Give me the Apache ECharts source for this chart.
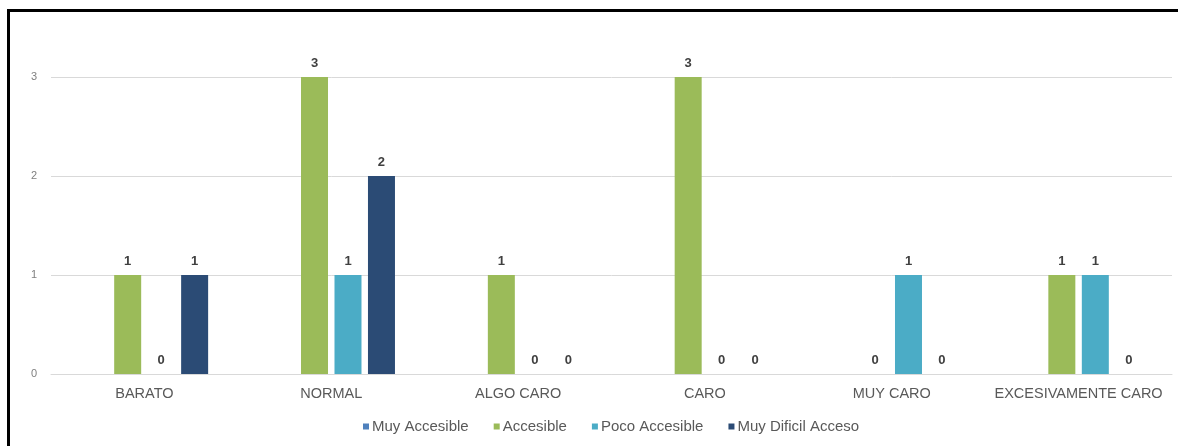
<!DOCTYPE html>
<html>
<head>
<meta charset="utf-8">
<script src="https://cdn.jsdelivr.net/npm/echarts@6/dist/echarts.min.js"></script>
<style>
  html, body { margin: 0; padding: 0; background: #fff; }
  #chart { width: 1178px; height: 446px; }
  #frame {
    position: absolute; left: 7px; top: 9px; width: 1180px; height: 450px;
    border-top: 3px solid #000; border-left: 3px solid #000; pointer-events: none;
  }
</style>
</head>
<body>
<div id="chart"></div>
<div id="frame"></div>
<script>
// Categories and series values
const categories = ['BARATO', 'NORMAL', 'ALGO CARO', 'CARO', 'MUY CARO', 'EXCESIVAMENTE CARO'];
const muyAccesible = [null, null, null, null, null, null];
const accesible = [1, 3, 1, 3, 0, 1];
const pocoAccesible = [0, 1, 0, 0, 1, 1];
const muyDificilAcceso = [1, 2, 0, 0, 0, 0];
const yTicks = [0, 1, 2, 3];

const seriesDefs = [
  { name: 'Muy Accesible', data: muyAccesible, color: '#4f81bd' },
  { name: 'Accesible', data: accesible, color: '#9bbb59' },
  { name: 'Poco Accesible', data: pocoAccesible, color: '#4bacc6' },
  { name: 'Muy Dificil Acceso', data: muyDificilAcceso, color: '#2b4b75' }
];

const chart = echarts.init(document.getElementById('chart'));
chart.setOption({
  backgroundColor: '#fff',
  animation: false,
  textStyle: { fontFamily: 'Liberation Sans, Arial, sans-serif' },
  grid: { left: 51, right: 6, top: 77, bottom: 72 },
  legend: {
    top: 414, left: 358,
    itemWidth: 6, itemHeight: 6, itemGap: 25,
    icon: 'rect',
    textStyle: { color: '#595959', fontSize: 15, padding: [0, 0, 0, -2] },
    data: seriesDefs.map(s => s.name)
  },
  xAxis: {
    type: 'category',
    data: categories,
    axisLine: { lineStyle: { color: '#d9d9d9' } },
    axisTick: { show: false },
    axisLabel: { color: '#595959', fontSize: 14.5, margin: 12, interval: 0 }
  },
  yAxis: {
    type: 'value',
    min: yTicks[0], max: yTicks[yTicks.length - 1], interval: 1,
    axisLine: { show: false },
    axisTick: { show: false },
    axisLabel: { color: '#7f7f7f', fontSize: 11, margin: 14 },
    splitLine: { lineStyle: { color: '#d9d9d9' } }
  },
  series: seriesDefs.map(s => ({
    name: s.name,
    type: 'bar',
    data: s.data,
    barWidth: 27,
    barGap: '24%',
    itemStyle: { color: s.color },
    label: {
      show: true, position: 'top', distance: 7,
      color: '#404040', fontSize: 13, fontWeight: 'bold'
    }
  }))
});
</script>
</body>
</html>
